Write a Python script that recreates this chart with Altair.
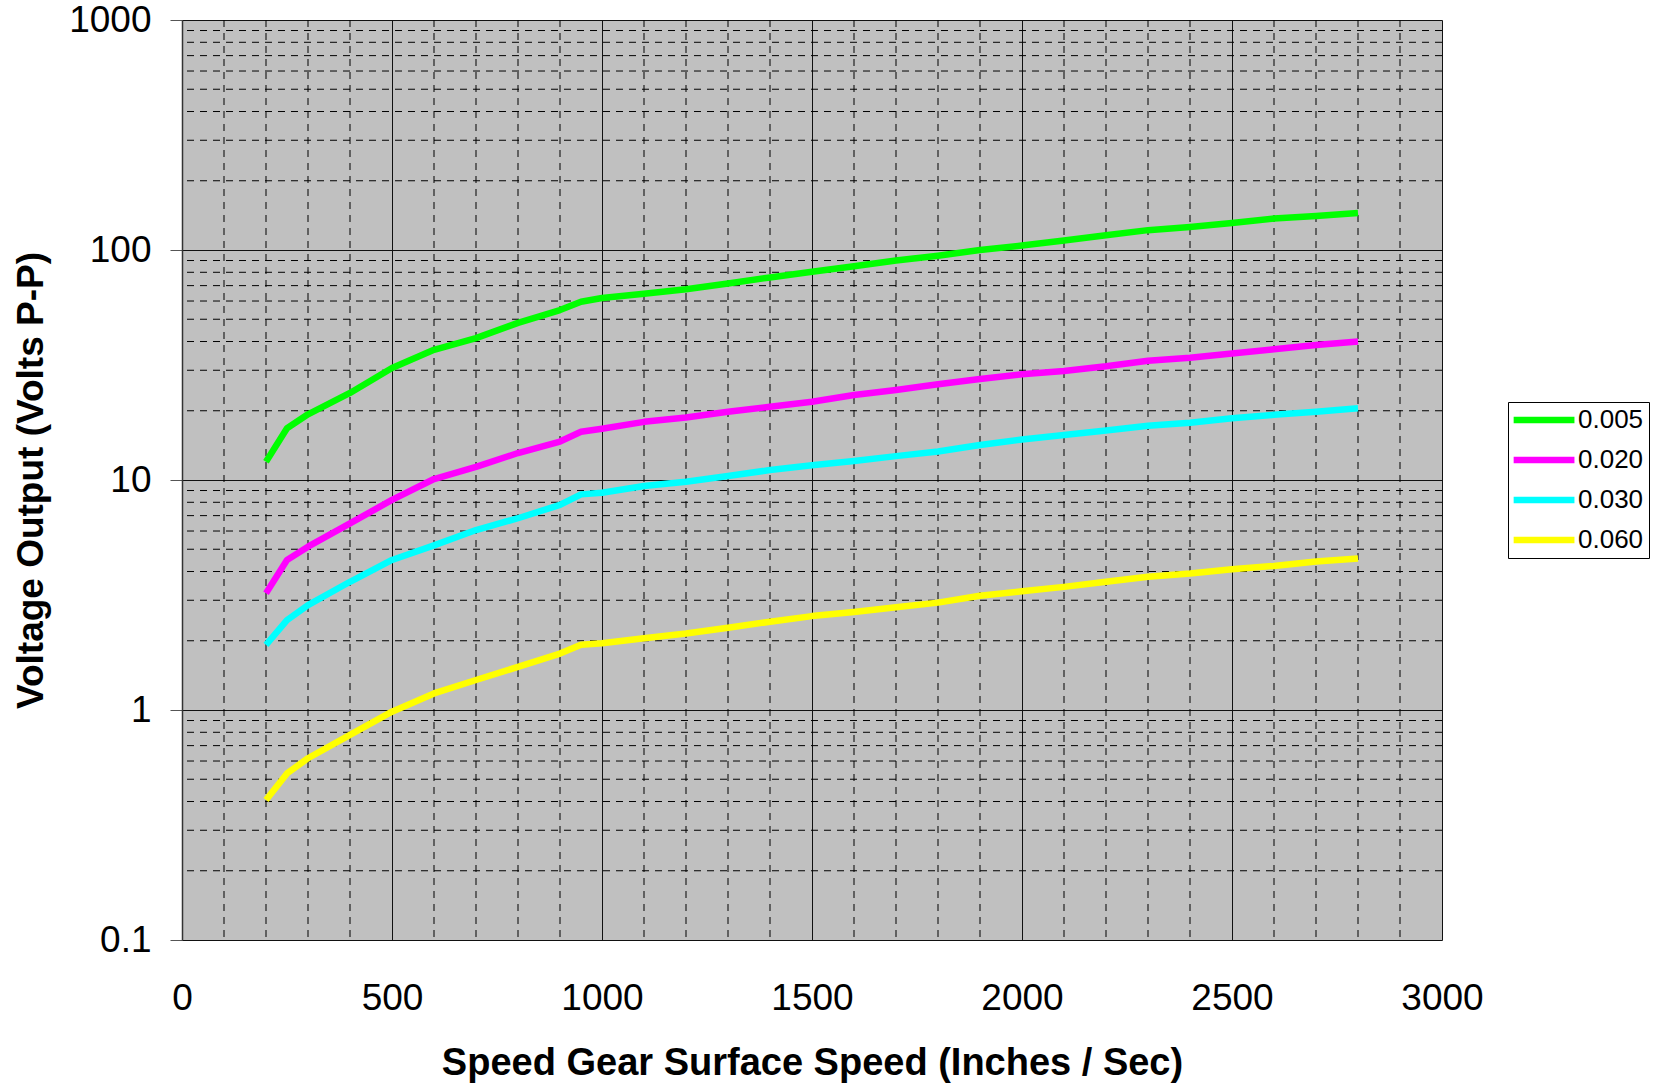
import altair as alt
import pandas as pd

# ---- data ----
speed = [200, 250, 300, 400, 500, 600, 700, 800, 900, 950, 1000, 1100, 1200, 1300,
         1400, 1500, 1600, 1700, 1800, 1900, 2000, 2100, 2200, 2300, 2400, 2500,
         2600, 2700, 2800]

v_005 = [12.0, 16.8, 19.3, 23.9, 30.7, 36.8, 41.4, 48.2, 54.8, 59.6, 61.8, 64.5,
         67.5, 71.5, 76.0, 80.5, 85.0, 90.0, 94.5, 100.0, 104.5, 110.0, 116.0,
         122.0, 126.0, 131.0, 137.0, 140.5, 145.0]
v_020 = [3.22, 4.49, 5.13, 6.48, 8.19, 10.1, 11.4, 13.1, 14.7, 16.2, 16.7, 17.9,
         18.7, 19.8, 20.8, 21.9, 23.4, 24.6, 26.1, 27.5, 28.8, 29.8, 31.2, 33.0,
         34.0, 35.5, 37.0, 38.6, 40.0]
v_030 = [1.92, 2.46, 2.86, 3.61, 4.49, 5.2, 6.06, 6.82, 7.79, 8.66, 8.8, 9.42,
         9.83, 10.4, 11.05, 11.6, 12.1, 12.7, 13.3, 14.2, 15.0, 15.7, 16.4, 17.2,
         17.75, 18.55, 19.2, 19.8, 20.5]
v_060 = [0.406, 0.53, 0.617, 0.779, 0.983, 1.18, 1.35, 1.54, 1.76, 1.92, 1.95,
         2.05, 2.15, 2.28, 2.42, 2.56, 2.67, 2.80, 2.93, 3.14, 3.28, 3.43, 3.61,
         3.80, 3.92, 4.09, 4.23, 4.42, 4.56]

series_names = ["0.005", "0.020", "0.030", "0.060"]
series_colors = ["#00FF00", "#FF00FF", "#00FFFF", "#FFFF00"]

x_major = [0, 500, 1000, 1500, 2000, 2500, 3000]
x_minor = [100, 200, 300, 400, 600, 700, 800, 900, 1100, 1200, 1300, 1400,
           1600, 1700, 1800, 1900, 2100, 2200, 2300, 2400, 2600, 2700, 2800, 2900]
y_major = [0.1, 1, 10, 100, 1000]
y_minor = [0.2, 0.3, 0.4, 0.5, 0.6, 0.7, 0.8, 0.9,
           2, 3, 4, 5, 6, 7, 8, 9,
           20, 30, 40, 50, 60, 70, 80, 90,
           200, 300, 400, 500, 600, 700, 800, 900]

x_title = "Speed Gear Surface Speed (Inches / Sec)"
y_title = "Voltage Output (Volts P-P)"

rows = []
for name, vals in zip(series_names, [v_005, v_020, v_030, v_060]):
    for s, v in zip(speed, vals):
        rows.append({"speed": s, "volts": v, "gap": name})
df = pd.DataFrame(rows)

FONT = "Liberation Sans"

xscale = alt.Scale(domain=[0, 3000], nice=False, zero=False)
yscale = alt.Scale(type="log", domain=[0.1, 1000], nice=False)

x_axis = alt.Axis(values=x_major, grid=True, gridColor="#111111", gridWidth=1,
                  gridOpacity=1, domain=False, ticks=False, labelFontSize=37,
                  labelFont=FONT, labelColor="black", labelPadding=40,
                  labelFlush=False, format="d", title=x_title, titleFont=FONT,
                  titleFontSize=38, titleFontWeight="bold", titleColor="black",
                  titlePadding=28)
y_axis = alt.Axis(values=y_major, grid=True, gridColor="#111111", gridWidth=1,
                  gridOpacity=1, domain=True, domainColor="#333333", domainWidth=1.5,
                  ticks=True, tickSize=12, tickColor="#555555", labelFontSize=37,
                  labelFont=FONT, labelColor="black", labelPadding=19,
                  labelFlush=False, format="~g", title=y_title, titleFont=FONT,
                  titleFontSize=37, titleFontWeight="bold", titleColor="black",
                  titlePadding=18)

vgrid = alt.Chart(pd.DataFrame({"speed": x_minor})).mark_rule(
    color="black", strokeWidth=1, strokeDash=[7, 6]
).encode(x=alt.X("speed:Q", scale=xscale, axis=x_axis))

hgrid = alt.Chart(pd.DataFrame({"volts": y_minor})).mark_rule(
    color="black", strokeWidth=1, strokeDash=[7, 6]
).encode(y=alt.Y("volts:Q", scale=yscale, axis=y_axis))

lines = alt.Chart(df).mark_line(strokeWidth=6.5, strokeJoin="round", strokeCap="butt").encode(
    x=alt.X("speed:Q", scale=xscale, axis=x_axis),
    y=alt.Y("volts:Q", scale=yscale, axis=y_axis),
    color=alt.Color("gap:N",
                    scale=alt.Scale(domain=series_names, range=series_colors),
                    sort=series_names,
                    legend=alt.Legend(orient="none", legendX=1326, legendY=382,
                                      title=None, symbolType="M-1.3,0H5.1",
                                      symbolStrokeWidth=6.5, symbolSize=361,
                                      labelFontSize=26, labelFont=FONT,
                                      labelColor="black", labelOffset=39,
                                      fillColor="white", strokeColor="black",
                                      padding=5, rowPadding=14)),
)

chart = alt.layer(vgrid, hgrid, lines).properties(
    width=1260, height=920,
    autosize=alt.AutoSizeParams(type="none"),
    padding={"left": 182, "top": 20, "right": 214, "bottom": 143},
).configure_view(fill="#C0C0C0", stroke="transparent")

chart.save("out.html", embed_options={"renderer": "svg", "actions": False})
